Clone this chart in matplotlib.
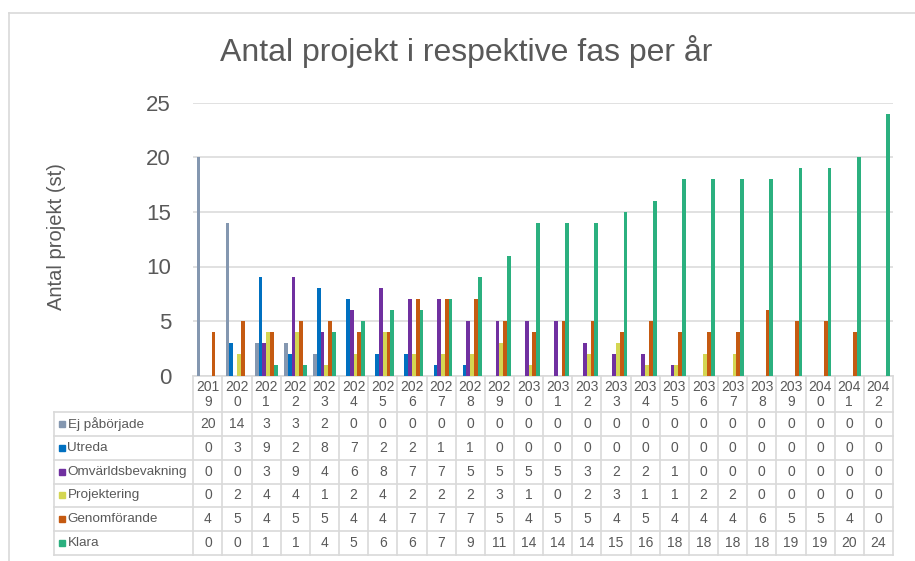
import matplotlib.pyplot as plt
import numpy as np

plt.rcParams['font.family'] = ['Liberation Sans', 'DejaVu Sans']

years = [str(y) for y in range(2019, 2043)]
series_names = ['Ej påbörjade', 'Utreda', 'Omvärldsbevakning',
                'Projektering', 'Genomförande', 'Klara']
ej_paborjade = [20, 14, 3, 3, 2, 0, 0, 0, 0, 0, 0, 0, 0, 0, 0, 0, 0, 0, 0, 0, 0, 0, 0, 0]
utreda = [0, 3, 9, 2, 8, 7, 2, 2, 1, 1, 0, 0, 0, 0, 0, 0, 0, 0, 0, 0, 0, 0, 0, 0]
omvarldsbevakning = [0, 0, 3, 9, 4, 6, 8, 7, 7, 5, 5, 5, 5, 3, 2, 2, 1, 0, 0, 0, 0, 0, 0, 0]
projektering = [0, 2, 4, 4, 1, 2, 4, 2, 2, 2, 3, 1, 0, 2, 3, 1, 1, 2, 2, 0, 0, 0, 0, 0]
genomforande = [4, 5, 4, 5, 5, 4, 4, 7, 7, 7, 5, 4, 5, 5, 4, 5, 4, 4, 4, 6, 5, 5, 4, 0]
klara = [0, 0, 1, 1, 4, 5, 6, 6, 7, 9, 11, 14, 14, 14, 15, 16, 18, 18, 18, 18, 19, 19, 20, 24]
data = [ej_paborjade, utreda, omvarldsbevakning, projektering, genomforande, klara]
colors = ['#8497B0', '#0070C0', '#7030A0', '#D4D652', '#C55A11', '#2BB07F']

txt = '#595959'
grid = '#D9D9D9'

W, H = 915, 561
fig = plt.figure(figsize=(W / 100, H / 100), dpi=100)


def fx(px):
    return px / W


def fy(py):
    return 1 - py / H


# outer chart border (runs off the right and bottom of the picture)
fig.add_artist(plt.Line2D([fx(8.5), 1], [fy(12.5), fy(12.5)], color=grid, lw=1.2))
fig.add_artist(plt.Line2D([fx(8.5), fx(8.5)], [fy(12.5), 0], color=grid, lw=1.2))

x0, x1 = 193.3, 893
y25, y0 = 102.7, 375.7
n = len(years)
cw = (x1 - x0) / n

ax = fig.add_axes([fx(x0), fy(y0), fx(x1) - fx(x0), fy(y25) - fy(y0)])
idx = np.arange(n)
bw = 0.13
for i, (name, vals, c) in enumerate(zip(series_names, data, colors)):
    ax.bar(idx + (i - 2.5) * bw, vals, bw, color=c, label=name, zorder=3)
ax.set_xlim(-0.5, n - 0.5)
ax.set_ylim(0, 25)
ax.set_yticks(range(0, 26, 5))
ax.yaxis.grid(True, color=grid, lw=1.1)
ax.set_axisbelow(True)
for s in ['top', 'right', 'left']:
    ax.spines[s].set_visible(False)
ax.spines['bottom'].set_color(grid)
ax.spines['bottom'].set_linewidth(1.1)
ax.set_xticks([])
ax.tick_params(axis='y', length=0, pad=16, labelsize=16, labelcolor=txt)

fig.text(fx(466), fy(52), 'Antal projekt i respektive fas per år', ha='center',
         va='center', fontsize=23, color=txt)
fig.text(fx(56), fy(237), 'Antal projekt (st)', ha='center', va='center',
         rotation=90, fontsize=14.5, color=txt)

# data table under the plot
ty0, ty1 = y0, 555
hdr_bot = 412
row_h = (ty1 - hdr_bot) / len(series_names)
tax = fig.add_axes([fx(x0), fy(ty1), fx(x1) - fx(x0), fy(ty0) - fy(ty1)])
tax.set_xlim(-0.5, n - 0.5)
tax.set_ylim(ty1, ty0)
tax.axis('off')


def px_x(px):
    return -0.5 + (px - x0) / cw


lab_left = px_x(54)
gkw = dict(color=grid, lw=1.2, clip_on=False, solid_capstyle='projecting')
for r in range(len(series_names) + 1):
    yy = hdr_bot + r * row_h
    tax.plot([lab_left, n - 0.5], [yy, yy], **gkw)
for c in range(n + 1):
    tax.plot([c - 0.5, c - 0.5], [ty0, ty1], **gkw)
tax.plot([lab_left, lab_left], [hdr_bot, ty1], **gkw)

for c, yr in enumerate(years):
    tax.text(c, (ty0 + hdr_bot) / 2 + 1, yr[:3] + '\n' + yr[3:], ha='center',
             va='center', fontsize=10, linespacing=1.1, color=txt)

for r, (name, vals, col) in enumerate(zip(series_names, data, colors)):
    yc = hdr_bot + (r + 0.5) * row_h
    tax.plot([px_x(62)], [yc], marker='s', ms=5, color=col, clip_on=False)
    tax.text(px_x(67.5), yc, name, ha='left', va='center', fontsize=9.7, color=txt)
    for c, v in enumerate(vals):
        tax.text(c, yc, str(v), ha='center', va='center', fontsize=10, color=txt)

fig.savefig('out.png', dpi=100)
